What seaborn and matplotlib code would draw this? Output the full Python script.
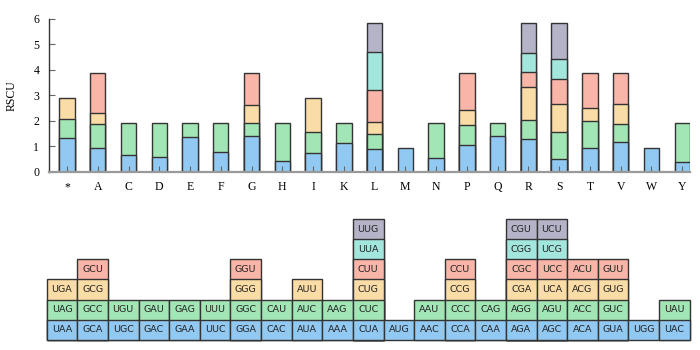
import numpy as np
import pandas as pd
import matplotlib
matplotlib.use('Agg')
import matplotlib.pyplot as plt
import seaborn as sns

# amino acids, codons (bottom to top) and their RSCU values
amino_acids = ['*', 'A', 'C', 'D', 'E', 'F', 'G', 'H', 'I', 'K', 'L',
               'M', 'N', 'P', 'Q', 'R', 'S', 'T', 'V', 'W', 'Y']
codons = [
    ['UAA', 'UAG', 'UGA'],
    ['GCA', 'GCC', 'GCG', 'GCU'],
    ['UGC', 'UGU'],
    ['GAC', 'GAU'],
    ['GAA', 'GAG'],
    ['UUC', 'UUU'],
    ['GGA', 'GGC', 'GGG', 'GGU'],
    ['CAC', 'CAU'],
    ['AUA', 'AUC', 'AUU'],
    ['AAA', 'AAG'],
    ['CUA', 'CUC', 'CUG', 'CUU', 'UUA', 'UUG'],
    ['AUG'],
    ['AAC', 'AAU'],
    ['CCA', 'CCC', 'CCG', 'CCU'],
    ['CAA', 'CAG'],
    ['AGA', 'AGG', 'CGA', 'CGC', 'CGG', 'CGU'],
    ['AGC', 'AGU', 'UCA', 'UCC', 'UCG', 'UCU'],
    ['ACA', 'ACC', 'ACG', 'ACU'],
    ['GUA', 'GUC', 'GUG', 'GUU'],
    ['UGG'],
    ['UAC', 'UAU'],
]
rscu = [
    [1.33, 0.72, 0.83],
    [0.91, 0.95, 0.43, 1.58],
    [0.64, 1.25],
    [0.58, 1.31],
    [1.34, 0.55],
    [0.75, 1.14],
    [1.39, 0.50, 0.74, 1.24],
    [0.43, 1.46],
    [0.72, 0.83, 1.33],
    [1.13, 0.76],
    [0.87, 0.59, 0.47, 1.28, 1.49, 1.14],
    [0.93],
    [0.55, 1.34],
    [1.05, 0.77, 0.59, 1.46],
    [1.38, 0.51],
    [1.28, 0.73, 1.33, 0.58, 0.74, 1.18],
    [0.51, 1.03, 1.10, 0.99, 0.80, 1.41],
    [0.91, 1.06, 0.52, 1.38],
    [1.16, 0.72, 0.76, 1.23],
    [0.93],
    [0.37, 1.52],
]
layer_colors = ['#92C9F3', '#A2E6B6', '#FADCA6', '#F8B5A8', '#A3E6DD', '#B5B3C8']
edge = '#333333'

# long table: one row per codon, with the cumulative top of its segment
rows = []
for aa, cods, vals in zip(amino_acids, codons, rscu):
    tops = np.cumsum(vals)
    for lvl, (c, v, t) in enumerate(zip(cods, vals, tops)):
        rows.append({'aa': aa, 'level': lvl, 'codon': c, 'rscu': v, 'top': t, 'cell': lvl + 1})
df = pd.DataFrame(rows)

fig = plt.figure(figsize=(7, 3.5), dpi=100)
ax = fig.add_axes([0.07, 0.51, 0.916, 0.436])
ax2 = fig.add_axes([0.0667, 0.0286, 0.9186, 0.3457])

# stacked bars: draw the cumulative tops from the highest layer down
for lvl in range(5, -1, -1):
    sub = df[df['level'] == lvl]
    sns.barplot(data=sub, x='aa', y='top', order=amino_acids, color=layer_colors[lvl],
                saturation=1, width=0.5, edgecolor=edge, linewidth=1, errorbar=None, ax=ax)

ax.set_xlim(-0.585, 20.26)
ax.set_ylim(0, 6)
ax.set_yticks(range(0, 7))
ax.set_xlabel('')
ax.set_ylabel('RSCU', fontfamily='Liberation Serif', fontsize=8.5, labelpad=11)
ax.tick_params(axis='both', direction='in', length=4, width=0.8, color='#666666',
               labelsize=8.5, pad=7)
for lab in ax.get_xticklabels() + ax.get_yticklabels():
    lab.set_fontfamily('Liberation Serif')
ax.spines['top'].set_visible(False)
ax.spines['right'].set_visible(False)
ax.spines['bottom'].set_color('#999999')
ax.spines['bottom'].set_linewidth(1.6)
ax.spines['left'].set_color('#333333')
ax.spines['left'].set_linewidth(1)

# codon table below, same stacking trick with unit cells
for lvl in range(5, -1, -1):
    sub = df[df['level'] == lvl]
    sns.barplot(data=sub, x='aa', y='cell', order=amino_acids, color=layer_colors[lvl],
                saturation=1, width=1, edgecolor=edge, linewidth=1, errorbar=None, ax=ax2)
for p in ax2.patches:
    p.set_clip_on(False)
pos = {aa: i for i, aa in enumerate(amino_acids)}
for _, r in df.iterrows():
    ax2.text(pos[r['aa']], r['level'] + 0.5, r['codon'], ha='center', va='center',
             fontsize=6.8, color='#222222', fontfamily='DejaVu Sans')
ax2.set_xlim(-0.5, 20.5)
ax2.set_ylim(0, 6)
ax2.axis('off')

fig.savefig('out.png', dpi=100)
